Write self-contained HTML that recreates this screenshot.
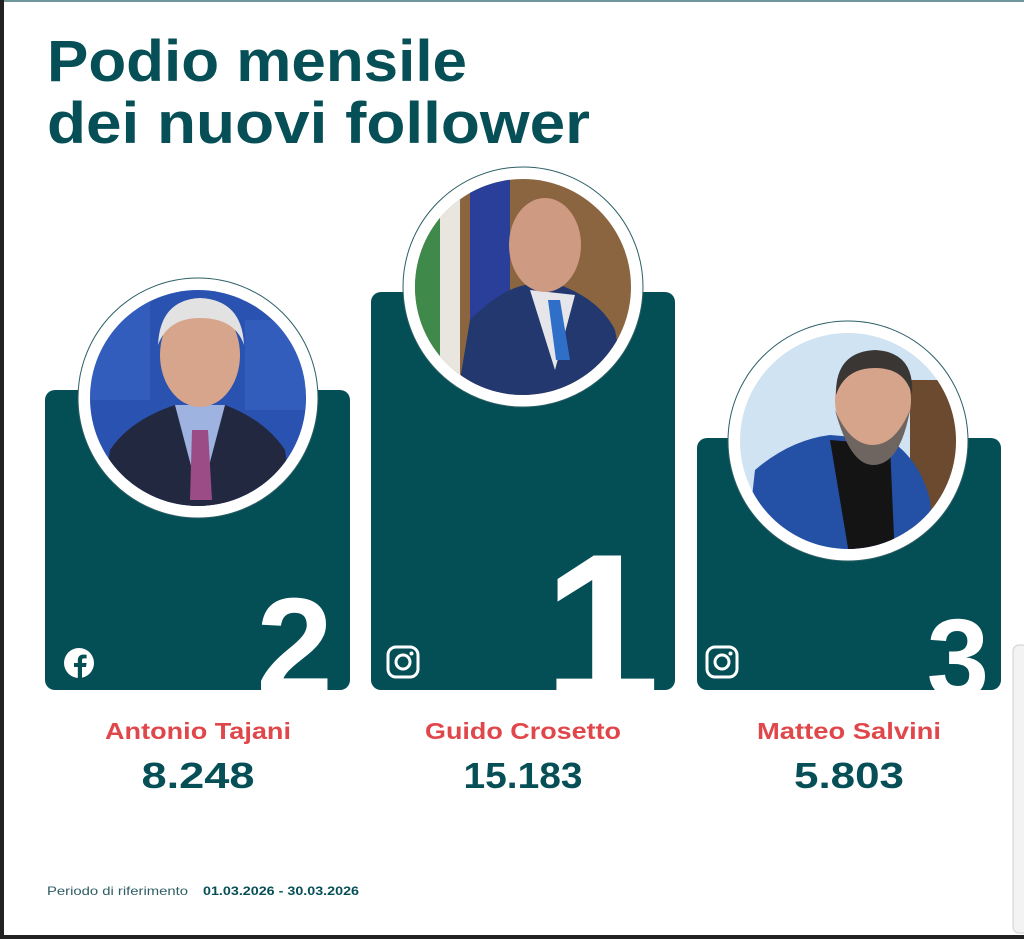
<!DOCTYPE html>
<html><head><meta charset="utf-8"><style>
html,body{margin:0;padding:0;background:#fff;}
svg{display:block;}
</style></head><body>
<svg width="1024" height="939" viewBox="0 0 1024 939" xmlns="http://www.w3.org/2000/svg" font-family="Liberation Sans, sans-serif">
<defs>
<clipPath id="c1"><rect x="45" y="390" width="305" height="300" rx="10"/></clipPath>
<clipPath id="c2"><rect x="371" y="292" width="304" height="398" rx="10"/></clipPath>
<clipPath id="c3"><rect x="697" y="438" width="304" height="252" rx="10"/></clipPath>
<clipPath id="p1"><circle cx="198" cy="398" r="108"/></clipPath>
<clipPath id="p2"><circle cx="523" cy="287" r="108"/></clipPath>
<clipPath id="p3"><circle cx="848" cy="441" r="108"/></clipPath>
</defs>
<rect width="1024" height="939" fill="#fff"/>
<rect x="0" y="0" width="1024" height="2" fill="#6f969a"/>
<rect x="0" y="0" width="4" height="939" fill="#222"/>
<rect x="0" y="935" width="1024" height="4" fill="#222"/>
<rect x="1013" y="645" width="20" height="288" rx="6" fill="#f3f3f3" stroke="#cfcfcf"/>

<text x="47" y="81" font-size="58" font-weight="bold" fill="#064f56" textLength="420" lengthAdjust="spacingAndGlyphs">Podio mensile</text>
<text x="47" y="143" font-size="58" font-weight="bold" fill="#064f56" textLength="543" lengthAdjust="spacingAndGlyphs">dei nuovi follower</text>

<!-- cards -->
<rect x="45" y="390" width="305" height="300" rx="10" fill="#044e55"/>
<rect x="371" y="292" width="304" height="398" rx="10" fill="#044e55"/>
<rect x="697" y="438" width="304" height="252" rx="10" fill="#044e55"/>

<g clip-path="url(#c1)"><text x="333" y="694" font-size="138" font-weight="bold" fill="#fff" text-anchor="end">2</text></g>
<g clip-path="url(#c2)"><text x="660" y="700" font-size="210" font-weight="bold" fill="#fff" text-anchor="end">1</text></g>
<g clip-path="url(#c3)"><text x="989" y="697" font-size="112" font-weight="bold" fill="#fff" text-anchor="end">3</text></g>

<!-- icons -->
<circle cx="79" cy="663" r="15" fill="#fff"/>
<path d="M82 678 v-11 h4 l0.6-4 h-4.6 v-2.6 c0-1.2 0.4-2 2-2 h2.6 v-3.6 c-0.6-0.1-2-0.2-3.4-0.2 c-3.4 0-5.4 2-5.4 5.6 v2.8 h-3.8 v4 h3.8 v11 z" fill="#044e55"/>
<g fill="none" stroke="#fff" stroke-width="3">
<rect x="388" y="647" width="30" height="30" rx="8"/><circle cx="403" cy="662" r="7"/>
<rect x="707" y="647" width="30" height="30" rx="8"/><circle cx="722" cy="662" r="7"/>
</g>
<circle cx="411.5" cy="653.5" r="2" fill="#fff"/><circle cx="730.5" cy="653.5" r="2" fill="#fff"/>

<!-- photo 1 -->
<circle cx="198" cy="398" r="120" fill="#fff" stroke="#2b5f64" stroke-width="1"/>
<g clip-path="url(#p1)">
<rect x="80" y="280" width="240" height="240" fill="#2a52b0"/>
<rect x="90" y="300" width="60" height="100" fill="#3a66c4" opacity=".6"/>
<rect x="245" y="320" width="60" height="90" fill="#3a66c4" opacity=".6"/>
<path d="M100 520 L110 450 Q130 420 175 405 L225 405 Q265 420 285 450 L295 520 Z" fill="#22283f"/>
<path d="M175 405 L200 500 L225 405 Z" fill="#9fb3e0"/>
<path d="M192 430 L208 430 L212 500 L190 500 Z" fill="#9b4c86"/>
<ellipse cx="200" cy="355" rx="40" ry="52" fill="#d6a58c"/>
<path d="M158 345 Q160 300 200 298 Q242 300 244 345 Q235 318 200 318 Q168 318 158 345 Z" fill="#e2e2e2"/>
</g>
<!-- photo 2 -->
<circle cx="523" cy="287" r="120" fill="#fff" stroke="#2b5f64" stroke-width="1"/>
<g clip-path="url(#p2)">
<rect x="410" y="175" width="230" height="230" fill="#8a6540"/>
<rect x="415" y="175" width="25" height="230" fill="#3f8a4a"/>
<rect x="440" y="175" width="20" height="230" fill="#e8e6df"/>
<rect x="470" y="175" width="40" height="230" fill="#2a3f9a"/>
<path d="M455 410 L470 320 Q500 290 525 285 L560 285 Q600 300 615 330 L630 410 Z" fill="#22386e"/>
<path d="M530 290 L555 370 L575 295 Z" fill="#e6e6ea"/>
<path d="M548 300 L560 300 L570 360 L556 360 Z" fill="#2f6fc8"/>
<ellipse cx="545" cy="245" rx="36" ry="47" fill="#cf9a82"/>
</g>
<!-- photo 3 -->
<circle cx="848" cy="441" r="120" fill="#fff" stroke="#2b5f64" stroke-width="1"/>
<g clip-path="url(#p3)">
<rect x="735" y="330" width="230" height="230" fill="#cfe3f3"/>
<rect x="910" y="380" width="50" height="180" fill="#6b4a30"/>
<path d="M745 560 L755 470 Q790 440 830 435 L890 440 Q920 460 930 500 L935 560 Z" fill="#2450a6"/>
<path d="M830 440 L850 560 L895 560 L890 445 Z" fill="#141414"/>
<ellipse cx="873" cy="400" rx="38" ry="48" fill="#d6a48a"/>
<path d="M835 410 Q850 465 873 465 Q900 465 910 410 Q895 445 873 445 Q850 445 835 410Z" fill="#6f6560"/>
<path d="M836 395 Q835 352 875 350 Q915 352 912 395 Q905 368 875 368 Q845 368 836 395 Z" fill="#3a3634"/>
</g>

<!-- names -->
<g font-size="23" font-weight="bold" fill="#e0474a" text-anchor="middle">
<text x="198" y="739" textLength="186" lengthAdjust="spacingAndGlyphs">Antonio Tajani</text>
<text x="523" y="739" textLength="196" lengthAdjust="spacingAndGlyphs">Guido Crosetto</text>
<text x="849" y="739" textLength="184" lengthAdjust="spacingAndGlyphs">Matteo Salvini</text>
</g>
<g font-size="36" font-weight="bold" fill="#064f56" text-anchor="middle">
<text x="198" y="788" textLength="113" lengthAdjust="spacingAndGlyphs">8.248</text>
<text x="523" y="788" textLength="119" lengthAdjust="spacingAndGlyphs">15.183</text>
<text x="849" y="788" textLength="110" lengthAdjust="spacingAndGlyphs">5.803</text>
</g>

<text x="47" y="895" font-size="12" fill="#2d5d63" textLength="141" lengthAdjust="spacingAndGlyphs">Periodo di riferimento</text>
<text x="203" y="895" font-size="12" font-weight="bold" fill="#064f56" textLength="156" lengthAdjust="spacingAndGlyphs">01.03.2026 - 30.03.2026</text>
</svg>
</body></html>
